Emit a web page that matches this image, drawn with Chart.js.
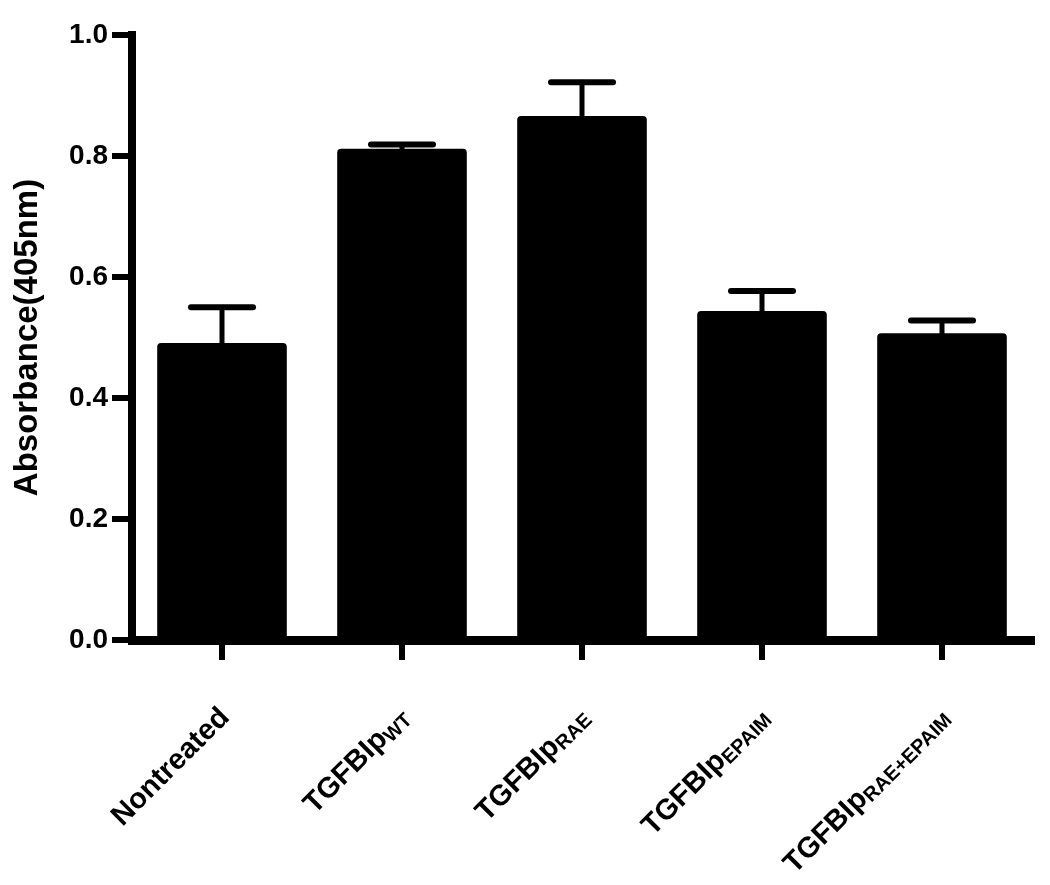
<!DOCTYPE html>
<html>
<head>
<meta charset="utf-8">
<script src="https://cdn.jsdelivr.net/npm/chart.js@4.4.1/dist/chart.umd.min.js"></script>
<style>
  html, body { margin: 0; padding: 0; background: #fff; }
  #wrap { width: 1050px; height: 885px; }
</style>
</head>
<body>
<div id="wrap"><canvas id="absChart" width="1050" height="885"></canvas></div>
<script>
const groups = ['Nontreated', 'TGFBIp', 'TGFBIp', 'TGFBIp', 'TGFBIp'];
const groupSubs = ['', 'WT', 'RAE', 'EPAIM', 'RAE+EPAIM'];
const means = [0.491, 0.812, 0.866, 0.544, 0.507];
const upperErr = [0.059, 0.007, 0.056, 0.033, 0.021];
const yTicks = [0, 0.2, 0.4, 0.6, 0.8, 1.0];

const FONT = 'Arial, "Liberation Sans", sans-serif';

// upward-only error bars, positioned from the chart's own scales
const errorBars = {
  id: 'errorBars',
  afterDatasetsDraw(chart) {
    const ctx = chart.ctx;
    const y = chart.scales.y;
    const meta = chart.getDatasetMeta(0);
    ctx.save();
    ctx.strokeStyle = '#000';
    ctx.lineCap = 'round';
    meta.data.forEach((bar, i) => {
      const top = y.getPixelForValue(means[i] + upperErr[i]);
      const base = y.getPixelForValue(means[i]);
      ctx.lineWidth = 5;
      ctx.beginPath();
      ctx.moveTo(bar.x, base);
      ctx.lineTo(bar.x, top);
      ctx.stroke();
      ctx.lineWidth = 6;
      ctx.beginPath();
      ctx.moveTo(bar.x - 31, top);
      ctx.lineTo(bar.x + 31, top);
      ctx.stroke();
    });
    ctx.restore();
  }
};

// rotated category labels with subscripts
const subLabels = {
  id: 'subLabels',
  afterDraw(chart) {
    const ctx = chart.ctx;
    const x = chart.scales.x;
    const ay = x.top + 73;
    ctx.save();
    ctx.fillStyle = '#000';
    ctx.textBaseline = 'middle';
    ctx.textAlign = 'left';
    groups.forEach((g, i) => {
      const ax = x.getPixelForValue(i) + 3;
      ctx.save();
      ctx.translate(ax, ay);
      ctx.rotate(-Math.PI / 4);
      ctx.font = 'bold 29px ' + FONT;
      const wm = ctx.measureText(g).width;
      ctx.font = 'bold 20px ' + FONT;
      const ws = groupSubs[i] ? ctx.measureText(groupSubs[i]).width : 0;
      ctx.font = 'bold 29px ' + FONT;
      ctx.fillText(g, -(wm + ws), 0);
      if (groupSubs[i]) {
        ctx.font = 'bold 20px ' + FONT;
        ctx.fillText(groupSubs[i], -ws, 6);
      }
      ctx.restore();
    });
    ctx.restore();
  }
};

new Chart(document.getElementById('absChart'), {
  type: 'bar',
  data: {
    labels: groups.map((g, i) => g + groupSubs[i]),
    datasets: [{
      data: means,
      backgroundColor: '#000',
      borderRadius: 4,
      borderSkipped: 'bottom',
      barPercentage: 0.72,
      categoryPercentage: 1.0,
    }],
  },
  options: {
    responsive: false,
    devicePixelRatio: 1,
    animation: false,
    layout: { padding: { top: 35, right: 18, left: 0, bottom: 0 } },
    plugins: { legend: { display: false }, tooltip: { enabled: false } },
    scales: {
      x: {
        afterFit: (s) => { s.height = 245; },
        ticks: { display: false },
        grid: {
          offset: false,
          drawOnChartArea: false,
          tickLength: 20,
          lineWidth: 6,
          color: '#000',
        },
        border: { width: 9, color: '#000' },
      },
      y: {
        min: 0,
        max: 1,
        afterFit: (s) => { s.width = 132; },
        afterBuildTicks: (s) => { s.ticks = yTicks.map(v => ({ value: v })); },
        ticks: {
          color: '#000',
          padding: 4,
          font: { family: FONT, size: 28, weight: 'bold' },
          callback: (v) => Number(v).toFixed(1),
        },
        grid: {
          drawOnChartArea: false,
          tickLength: 20,
          lineWidth: 6,
          color: '#000',
        },
        border: { width: 8, color: '#000' },
        title: {
          display: true,
          text: 'Absorbance(405nm)',
          color: '#000',
          padding: { top: 8, bottom: 0 },
          font: { family: FONT, size: 33, weight: 'bold' },
        },
      },
    },
  },
  plugins: [errorBars, subLabels],
});
</script>
</body>
</html>
